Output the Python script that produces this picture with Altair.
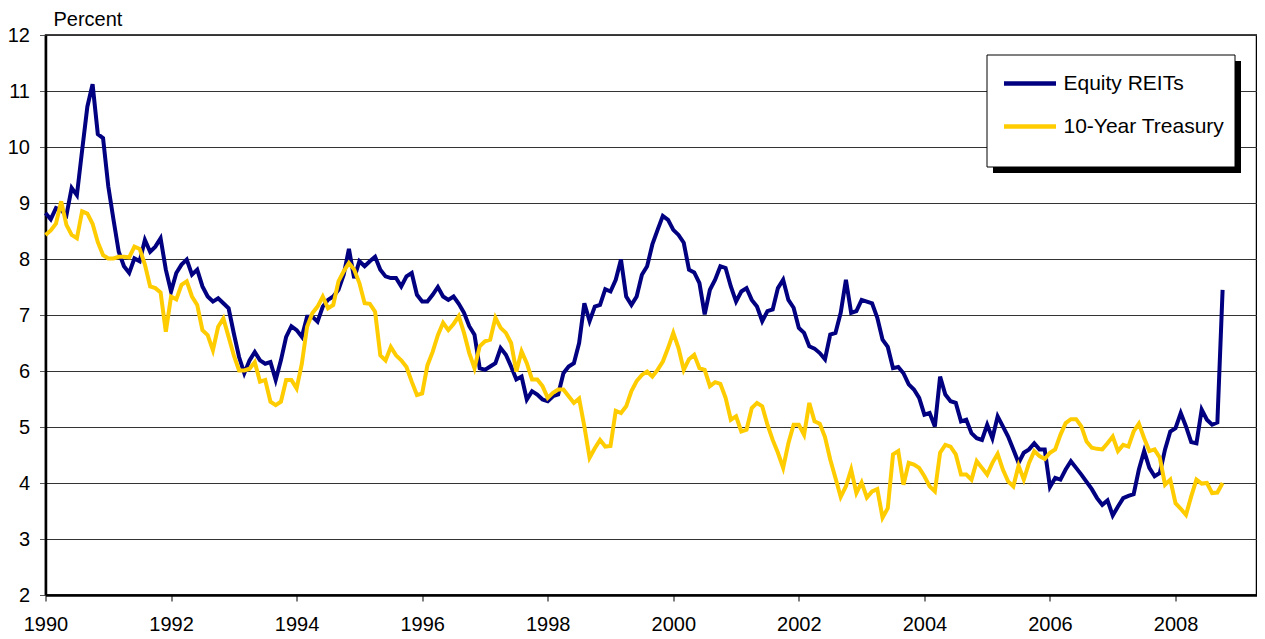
import altair as alt
import pandas as pd

# Monthly yields, Jan 1990 .. Oct 2008
reits = [
    8.82, 8.71, 8.91, 8.87, 8.78, 9.27, 9.14, 9.94, 10.72, 11.12, 10.23, 10.16,
    9.30, 8.70, 8.13, 7.87, 7.75, 8.01, 7.96, 8.34, 8.13, 8.22, 8.37, 7.81,
    7.42, 7.75, 7.90, 7.99, 7.72, 7.81, 7.51, 7.33, 7.24, 7.30, 7.21, 7.12,
    6.67, 6.25, 5.96, 6.19, 6.34, 6.19, 6.13, 6.16, 5.84, 6.19, 6.61, 6.80,
    6.73, 6.61, 6.97, 6.97, 6.88, 7.15, 7.27, 7.33, 7.45, 7.72, 8.18, 7.66,
    7.96, 7.87, 7.96, 8.04, 7.81, 7.69, 7.66, 7.66, 7.51, 7.69, 7.75, 7.36,
    7.24, 7.24, 7.36, 7.50, 7.33, 7.27, 7.33, 7.20, 7.04, 6.80, 6.65, 6.05,
    6.02, 6.08, 6.14, 6.41, 6.29, 6.08, 5.85, 5.90, 5.49, 5.64, 5.58, 5.49,
    5.46, 5.55, 5.58, 5.96, 6.08, 6.14, 6.50, 7.21, 6.89, 7.15, 7.18, 7.46,
    7.42, 7.63, 7.99, 7.33, 7.18, 7.33, 7.72, 7.87, 8.26, 8.52, 8.77, 8.70,
    8.52, 8.43, 8.29, 7.81, 7.76, 7.57, 7.01, 7.45, 7.63, 7.87, 7.84, 7.51,
    7.24, 7.42, 7.48, 7.27, 7.15, 6.89, 7.07, 7.10, 7.48, 7.63, 7.27, 7.13,
    6.77, 6.68, 6.44, 6.40, 6.32, 6.21, 6.65, 6.68, 7.04, 7.63, 7.04, 7.07,
    7.27, 7.24, 7.21, 6.95, 6.56, 6.43, 6.05, 6.07, 5.96, 5.76, 5.67, 5.52,
    5.22, 5.25, 5.01, 5.90, 5.58, 5.46, 5.43, 5.10, 5.13, 4.89, 4.80, 4.77,
    5.04, 4.80, 5.19, 5.01, 4.83, 4.60, 4.36, 4.54, 4.60, 4.71, 4.60, 4.60,
    3.93, 4.09, 4.06, 4.24, 4.39, 4.27, 4.15, 4.02, 3.89, 3.73, 3.61, 3.69,
    3.42, 3.58, 3.73, 3.77, 3.80, 4.24, 4.57, 4.27, 4.12, 4.18, 4.60, 4.92,
    4.98, 5.25, 5.01, 4.73, 4.71, 5.31, 5.13, 5.04, 5.08, 7.45,
]
treasury = [
    8.43, 8.51, 8.63, 9.03, 8.61, 8.43, 8.37, 8.85, 8.81, 8.63, 8.30, 8.07,
    8.01, 8.01, 8.04, 8.04, 8.03, 8.22, 8.18, 7.90, 7.51, 7.48, 7.40, 6.70,
    7.33, 7.28, 7.54, 7.60, 7.33, 7.18, 6.73, 6.64, 6.37, 6.79, 6.94, 6.61,
    6.28, 6.01, 6.01, 6.04, 6.16, 5.81, 5.84, 5.45, 5.39, 5.45, 5.84, 5.84,
    5.69, 6.13, 6.79, 7.03, 7.15, 7.33, 7.12, 7.18, 7.60, 7.78, 7.93, 7.81,
    7.57, 7.21, 7.20, 7.06, 6.28, 6.19, 6.43, 6.28, 6.19, 6.07, 5.81, 5.57,
    5.60, 6.10, 6.34, 6.64, 6.86, 6.73, 6.84, 6.98, 6.68, 6.32, 6.05, 6.44,
    6.53, 6.56, 6.95, 6.77, 6.68, 6.50, 5.99, 6.35, 6.14, 5.85, 5.85, 5.73,
    5.52, 5.61, 5.67, 5.67, 5.55, 5.43, 5.51, 5.01, 4.45, 4.62, 4.77, 4.65,
    4.66, 5.29, 5.25, 5.37, 5.64, 5.82, 5.93, 5.99, 5.90, 6.02, 6.17, 6.41,
    6.68, 6.41, 6.02, 6.21, 6.29, 6.05, 6.02, 5.73, 5.80, 5.77, 5.52, 5.13,
    5.19, 4.92, 4.95, 5.34, 5.43, 5.37, 5.04, 4.77, 4.54, 4.27, 4.71, 5.04,
    5.04, 4.86, 5.43, 5.10, 5.06, 4.82, 4.42, 4.09, 3.75, 3.94, 4.24, 3.82,
    4.01, 3.74, 3.85, 3.89, 3.38, 3.55, 4.51, 4.57, 3.97, 4.36, 4.33, 4.27,
    4.12, 3.94, 3.85, 4.54, 4.68, 4.65, 4.51, 4.15, 4.15, 4.06, 4.39, 4.27,
    4.15, 4.36, 4.52, 4.24, 4.03, 3.94, 4.31, 4.06, 4.36, 4.57, 4.48, 4.43,
    4.54, 4.60, 4.86, 5.07, 5.14, 5.14, 5.01, 4.74, 4.63, 4.61, 4.60, 4.71,
    4.83, 4.57, 4.68, 4.65, 4.92, 5.06, 4.80, 4.57, 4.60, 4.45, 3.97, 4.06,
    3.64, 3.54, 3.43, 3.76, 4.06, 3.99, 4.00, 3.82, 3.83, 4.00,
]
series_names = ["Equity REITs", "10-Year Treasury"]
series_colors = ["#000080", "#FFCC00"]
year_ticks = [1990, 1992, 1994, 1996, 1998, 2000, 2002, 2004, 2006, 2008]
pct_ticks = [2, 3, 4, 5, 6, 7, 8, 9, 10, 11, 12]

months = pd.date_range("1990-01-01", periods=len(reits), freq="MS")
t = [d.year + (d.month - 1) / 12 for d in months]

rows = []
for name, vals in zip(series_names, [reits, treasury]):
    for ti, v in zip(t, vals):
        rows.append({"t": ti, "v": v, "series": name})
df = pd.DataFrame(rows)

FONT = "Liberation Sans"

lines = alt.Chart(df).mark_line(strokeWidth=4).encode(
    x=alt.X("t:Q",
            scale=alt.Scale(domain=[1990, 2009.29], nice=False, zero=False),
            axis=alt.Axis(values=year_ticks, format="d", title=None, grid=False,
                          tickSize=6, tickColor="#000", labelPadding=13,
                          labelFlush=False, labelOverlap=False,
                          domainColor="#000", domainWidth=2.5)),
    y=alt.Y("v:Q",
            scale=alt.Scale(domain=[2, 12], nice=False, zero=False),
            axis=alt.Axis(values=pct_ticks, grid=True, gridColor="#333",
                          gridWidth=1, tickSize=6, tickColor="#555",
                          labelPadding=10, domainColor="#000", domainWidth=2.5,
                          title="Percent", titleAngle=0, titleAlign="left",
                          titleBaseline="alphabetic", titleX=7.5, titleY=-10,
                          titleFont=FONT, titleFontSize=20,
                          titleFontWeight="normal", titleColor="#000")),
    color=alt.Color("series:N",
                    scale=alt.Scale(domain=series_names, range=series_colors),
                    legend=alt.Legend(title=None, orient="none", legendX=956,
                                      legendY=20, symbolType="stroke",
                                      symbolSize=2704, symbolStrokeWidth=4.5,
                                      labelFont=FONT, labelFontSize=21,
                                      labelColor="#000", labelOffset=5,
                                      rowPadding=4, padding=0,
                                      labelLimit=400)),
)

box_data = alt.Data(values=[{"a": 1}])
shadow = alt.Chart(box_data).mark_rect(color="#000").encode(
    x=alt.value(947.5), x2=alt.value(1195.5), y=alt.value(26), y2=alt.value(138))
box = alt.Chart(box_data).mark_rect(fill="#fff", stroke="#000", strokeWidth=1).encode(
    x=alt.value(941.5), x2=alt.value(1189.5), y=alt.value(20), y2=alt.value(132))

chart = alt.layer(shadow, box, lines).properties(
    width=1211, height=560,
    autosize=alt.AutoSizeParams(type="none"),
    padding={"left": 37.5, "top": 27, "right": 0.5, "bottom": 39},
).configure_view(stroke="#000", strokeWidth=1.5).configure_axis(
    labelFont=FONT, labelFontSize=20, labelColor="#000"
)

chart.save("out.html", embed_options={"renderer": "svg", "actions": False})
